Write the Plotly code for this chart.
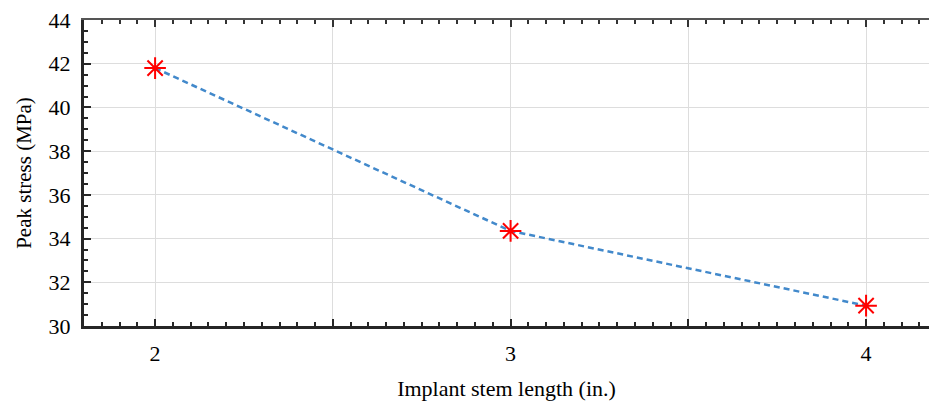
import plotly.graph_objects as go

# implant stem length (in.) vs peak stress (MPa)
stem_length = [2, 3, 4]
peak_stress = [41.8, 34.35, 30.93]

x_ticks = [2, 2.5, 3, 3.5, 4]
x_labels = ["2", "", "3", "", "4"]
y_ticks = [30, 32, 34, 36, 38, 40, 42, 44]

font = "Liberation Serif"
xr = [1.8, 4.177]

fig = go.Figure()
fig.add_trace(go.Scatter(
    x=stem_length, y=peak_stress, mode="lines+markers",
    line=dict(color="#4289cb", width=2.5, dash="6px,4px"),
    marker=dict(symbol="asterisk-open", size=18, color="red",
                line=dict(color="red", width=2)),
    showlegend=False,
))

fig.update_layout(
    width=929, height=401,
    margin=dict(l=84, r=0, t=20, b=75),
    plot_bgcolor="white", paper_bgcolor="white",
    font=dict(family=font, size=22, color="black"),
    xaxis=dict(
        range=xr, tickvals=x_ticks, ticktext=x_labels, automargin=False,
        showgrid=True, gridcolor="#dddddd", gridwidth=1,
        showline=True, linecolor="#262626", linewidth=3,
        ticks="inside", ticklen=7, tickwidth=2, tickcolor="#262626",
        tickfont=dict(family=font, size=22),
        minor=dict(dtick=0.05, ticks="inside", ticklen=4, tickwidth=1.5,
                   tickcolor="#262626", showgrid=False),
        ticklabelstandoff=6, zeroline=False,
        title=dict(text="Implant stem length (in.)",
                   font=dict(family=font, size=22), standoff=16),
    ),
    xaxis2=dict(
        overlaying="x", side="top", range=xr, tickvals=x_ticks,
        showticklabels=False, showgrid=False, zeroline=False,
        showline=True, linecolor="#555555", linewidth=1.5,
        ticks="inside", ticklen=7, tickwidth=1.5, tickcolor="#333333",
        minor=dict(dtick=0.05, ticks="inside", ticklen=4, tickwidth=1.5,
                   tickcolor="#333333", showgrid=False),
    ),
    yaxis=dict(
        range=[30, 44], tickvals=y_ticks, automargin=False,
        showgrid=True, gridcolor="#dddddd", gridwidth=1,
        showline=True, linecolor="#262626", linewidth=3,
        ticks="inside", ticklen=7, tickwidth=2, tickcolor="#262626",
        tickfont=dict(family=font, size=22),
        minor=dict(dtick=0.5, ticks="inside", ticklen=4, tickwidth=1.5,
                   tickcolor="#262626", showgrid=False),
        ticklabelstandoff=6, zeroline=False,
        title=dict(text="Peak stress (MPa)",
                   font=dict(family=font, size=21), standoff=12),
    ),
)
fig.add_trace(go.Scatter(x=stem_length, y=peak_stress, xaxis="x2",
                         mode="markers", marker=dict(opacity=0),
                         hoverinfo="skip", showlegend=False))

# page body has a default 8px margin; drop it so the figure sits at 0,0
fig.write_html("out.html", config={"displayModeBar": False},
               post_script="document.body.style.margin='0';")
